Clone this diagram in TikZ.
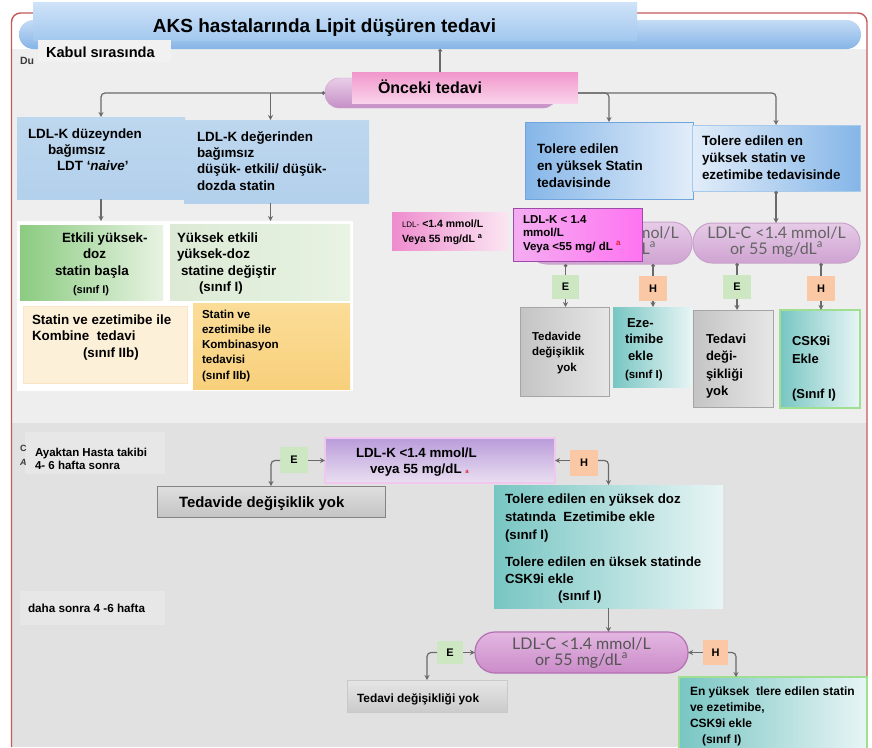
\documentclass[tikz,border=0pt]{standalone}
\usepackage{fontspec}
\setmainfont{Liberation Sans}
\newfontfamily\pillfont{Lato}
\usetikzlibrary{arrows.meta,calc}

\definecolor{bgup}{HTML}{EEEEEE}
\definecolor{bglow}{HTML}{E1E1E1}
\definecolor{framered}{HTML}{C65A5A}
\definecolor{linegray}{HTML}{6A6A6A}
\definecolor{hdrtop}{HTML}{C4DCF6}
\definecolor{hdrbot}{HTML}{86B4E6}
\definecolor{ttltop}{HTML}{CFE3F8}
\definecolor{ttlbot}{HTML}{A3C8EF}
\definecolor{kabulgray}{HTML}{F1F1F1}
\definecolor{ldlblue}{HTML}{BDD7EE}
\definecolor{ldlblue2}{HTML}{B3D0EC}
\definecolor{tolblue}{HTML}{85B6E8}
\definecolor{tollight}{HTML}{E2EDF9}
\definecolor{tolborder}{HTML}{6FA5DC}
\definecolor{gdark}{HTML}{8BCB80}
\definecolor{glight}{HTML}{E8F3E3}
\definecolor{gpale}{HTML}{DCEAD5}
\definecolor{cream}{HTML}{FDF0D8}
\definecolor{creamedge}{HTML}{F3C98A}
\definecolor{ytop}{HTML}{FBDD98}
\definecolor{ybot}{HTML}{F8D07C}
\definecolor{pinkL}{HTML}{EE8CCE}
\definecolor{pinkR}{HTML}{FBE6F2}
\definecolor{magL}{HTML}{F4ADF1}
\definecolor{magR}{HTML}{FF74F1}
\definecolor{magborder}{HTML}{9B4CA9}
\definecolor{lilactop}{HTML}{E6CBE7}
\definecolor{lilacbot}{HTML}{CFA3D2}
\definecolor{lilacborder}{HTML}{C9A2CB}
\definecolor{pill3top}{HTML}{E3B6E1}
\definecolor{pill3bot}{HTML}{CB8CC9}
\definecolor{pill3border}{HTML}{B470B3}
\definecolor{pilltext}{HTML}{646464}
\definecolor{onctop}{HTML}{F196CB}
\definecolor{oncbot}{HTML}{FAD3EA}
\definecolor{optop}{HTML}{E9CDE8}
\definecolor{opbot}{HTML}{C590C6}
\definecolor{egreen}{HTML}{CDE7C3}
\definecolor{hpeach}{HTML}{FAC8A4}
\definecolor{grayL}{HTML}{C4C4C4}
\definecolor{grayR}{HTML}{E6E6E6}
\definecolor{grayborder}{HTML}{A5A5A5}
\definecolor{tealL}{HTML}{78C6C3}
\definecolor{tealR}{HTML}{E8F5F5}
\definecolor{greenborder}{HTML}{A0DE92}
\definecolor{purpTop}{HTML}{B99CDA}
\definecolor{purpBot}{HTML}{EADFF1}
\definecolor{purpborder}{HTML}{F1C7F0}
\definecolor{supred}{HTML}{E0203A}
\definecolor{faint}{HTML}{E7E7E7}
\definecolor{remnant}{HTML}{3A3A3A}

\begin{document}
\begin{tikzpicture}[x=1pt,y=-1pt,
  box/.style={anchor=north west, inner sep=0pt, outer sep=0pt, draw=none},
  % multi-line texts are placed by the baseline of their last line
  tx/.style={anchor=base west, inner sep=0pt, outer sep=0pt, align=left, text=black},
  ftitle/.style={font=\fontsize{19}{22}\selectfont\bfseries},
  fmain/.style={font=\fontsize{13.4}{16.4}\selectfont\bfseries},
  fpill/.style={font=\fontsize{16}{16}\selectfont\pillfont, text=pilltext, anchor=base, align=center, inner sep=0pt},
  tag/.style={box, font=\fontsize{11}{11}\selectfont\bfseries},
  ebox/.style={tag, fill=egreen},
  hbox/.style={tag, fill=hpeach},
  graybox/.style={box, left color=grayL, right color=grayR, draw=grayborder, line width=0.8pt},
  tealbox/.style={box, left color=tealL, right color=tealR},
  conn/.style={draw=linegray, line width=1.2pt, rounded corners=4pt},
  arr/.style={conn, -{Stealth[length=5pt,width=5pt]}},
  darr/.style={conn, {Circle[length=3.5pt]}-{Stealth[length=5pt,width=5pt]}},
  dline/.style={conn, {Circle[length=3.5pt]}-},
]
\useasboundingbox (0,0) rectangle (872,747);

% ---------- page background and frame ----------
\fill[white] (0,0) rectangle (872,747);
\fill[bgup] (12,49) rectangle (867,423);
\fill[bglow] (12,423) rectangle (867,747);
\draw[framered, line width=1.4pt, rounded corners=9pt] (11.5,747) -- (11.5,13) -- (867,13) -- (867,747);

% ---------- header ----------
\node[box, minimum width=842, minimum height=29, rounded corners=14.5pt,
      top color=hdrtop, bottom color=hdrbot] (hdr) at (19,20) {};
\node[box, minimum width=604, minimum height=38, top color=ttltop, bottom color=ttlbot] (ttl) at (33,2) {};
\node[ftitle, anchor=base, inner sep=0pt] (ttlt) at (324.5,32) {AKS hastalarında Lipit düşüren tedavi};
\node[tx, font=\fontsize{10.5}{10.5}\selectfont\bfseries, text=remnant] (du) at (20,64) {Du};
\node[box, minimum width=133, minimum height=22, fill=kabulgray] (kab) at (38,40) {};
\node[tx, font=\fontsize{14.6}{14.6}\selectfont\bfseries] (kabt) at (46,57) {Kabul sırasında};

% ---------- previous therapy ----------
\node[box, minimum width=232, minimum height=30, rounded corners=14pt,
      top color=optop, bottom color=opbot, draw=lilacborder] (op) at (325,78) {};
\node[box, minimum width=226, minimum height=31, top color=onctop, bottom color=oncbot] (onc) at (352,72) {};
\node[tx, font=\fontsize{16}{16}\selectfont\bfseries] (onct) at (378,93) {Önceki tedavi};

% ---------- first row: therapy status ----------
\node[box, minimum width=168, minimum height=82, top color=ldlblue, bottom color=ldlblue2] (b1) at (17,117) {};
\node[box, minimum width=185, minimum height=83, top color=ldlblue, bottom color=ldlblue2] (b2) at (184,120) {};
\node[box, minimum width=168, minimum height=77, left color=tolblue, right color=tollight, draw=tolborder, line width=1pt] (b3) at (525,122) {};
\node[box, minimum width=168, minimum height=66, left color=tollight, right color=tolblue, draw=tolborder!60, line width=1pt] (b4) at (692,125) {};

\node[tx, fmain] (b1t) at (28,170.8) {LDL-K düzeynden\\\hspace*{20pt}bağımsız\\\hspace*{29pt}LDT ‘\textit{naive}’};
\node[tx, fmain] (b2t) at (197,190.2) {LDL-K değerinden\\bağımsız\\düşük- etkili/ düşük-\\dozda statin};
\node[tx, font=\fontsize{13.4}{17.3}\selectfont\bfseries] (b3t) at (537,187.6) {Tolere edilen\\en yüksek Statin\\tedavisinde};
\node[tx, font=\fontsize{13.4}{17}\selectfont\bfseries] (b4t) at (702,179) {Tolere edilen en\\yüksek statin ve\\ezetimibe tedavisinde};

% ---------- left recommendations ----------
\node[box, minimum width=336, minimum height=170, fill=white] (wf) at (17,221) {};
\node[box, minimum width=143, minimum height=75, left color=gdark, right color=glight] (g1) at (20,225) {};
\node[box, minimum width=180, minimum height=76, left color=gpale, right color=glight] (g2) at (170,224) {};
\node[box, minimum width=164, minimum height=77, fill=cream, draw=creamedge!50, line width=0.6pt] (y1) at (23,306) {};
\node[box, minimum width=157, minimum height=86, top color=ytop, bottom color=ybot] (y2) at (193,303) {};

\node[tx, font=\fontsize{13.4}{16.6}\selectfont\bfseries] (g1t) at (62,275.2) {Etkili yüksek-\\\hspace*{21pt}doz\\\hspace*{-7pt}statin başla};
\node[tx, font=\fontsize{11}{11}\selectfont\bfseries] (g1c) at (73,293) {(sınıf I)};
\node[tx, font=\fontsize{13.4}{16.6}\selectfont\bfseries] (g2t) at (177,291.8) {Yüksek etkili\\yüksek-doz\\\hspace*{4pt}statine değiştir\\\hspace*{22pt}(sınıf I)};
\node[tx, font=\fontsize{13.4}{16.5}\selectfont\bfseries] (y1t) at (32,357) {Statin ve ezetimibe ile\\Kombine\ \ tedavi\\\hspace*{51pt}(sınıf IIb)};
\node[tx, font=\fontsize{11.6}{15.3}\selectfont\bfseries] (y2t) at (202,379.2) {Statin ve\\ezetimibe ile\\Kombinasyon\\tedavisi\\(sınıf IIb)};

% ---------- right: LDL targets ----------
\node[box, minimum width=116, minimum height=38, left color=pinkL, right color=pinkR] (ps) at (392,212) {};
\node[tx, font=\fontsize{10.5}{15}\selectfont\bfseries] (pst) at (402,242)
  {{\mdseries\fontsize{8}{8}\selectfont LDL-} <1.4 mmol/L\\Veya 55 mg/dL \textsuperscript{a}};

\node[box, minimum width=165, minimum height=42, rounded corners=20pt,
      top color=lilactop, bottom color=lilacbot, draw=lilacborder, line width=1pt] (p1) at (527,222) {};
\node[fpill] (p1t) at (609.5,254) {LDL-C <1.4 mmol/L\\or 55 mg/dL\textsuperscript{a}};
\node[box, minimum width=167, minimum height=40, rounded corners=19pt,
      top color=lilactop, bottom color=lilacbot, draw=lilacborder, line width=1pt] (p2) at (693,223) {};
\node[fpill] (p2t) at (776.5,254) {LDL-C <1.4 mmol/L\\or 55 mg/dL\textsuperscript{a}};

\node[box, minimum width=129, minimum height=53, left color=magL, right color=magR, draw=magborder, line width=0.9pt] (mg) at (513,208) {};
\node[tx, font=\fontsize{11.5}{13.6}\selectfont\bfseries] (mgt) at (523,250.2)
  {LDL-K < 1.4\\mmol/L\\Veya <55 mg/ dL {\color{supred}\textsuperscript{a}}};

% E / H decisions
\node[ebox, minimum width=27, minimum height=24] (e1) at (552,275) {E};
\node[hbox, minimum width=28, minimum height=25] (h1) at (639,276) {H};
\node[ebox, minimum width=28, minimum height=24] (e2) at (723,275) {E};
\node[hbox, minimum width=28, minimum height=25] (h2) at (807,276) {H};

% outcome boxes
\node[graybox, minimum width=89, minimum height=89] (gy1) at (520,307) {};
\node[tealbox, minimum width=79, minimum height=80] (tl1) at (613,307) {};
\node[graybox, minimum width=80, minimum height=97] (gy2) at (693,310) {};
\node[tealbox, minimum width=80, minimum height=98, draw=greenborder, line width=2pt] (tl2) at (780,310) {};

\node[tx, font=\fontsize{11.5}{15.5}\selectfont\bfseries] (gy1t) at (532,371) {Tedavide\\değişiklik\\\hspace*{25pt}yok};
\node[tx, font=\fontsize{13}{16.6}\selectfont\bfseries] (tl1t) at (627,360.2) {Eze-\\\hspace*{-2pt}timibe\\\hspace*{1pt}ekle};
\node[tx, font=\fontsize{11.5}{11.5}\selectfont\bfseries] (tl1c) at (625,378) {(sınıf I)};
\node[tx, font=\fontsize{13}{17.6}\selectfont\bfseries] (gy2t) at (706,395.8) {Tedavi\\deği-\\şikliği\\yok};
\node[tx, font=\fontsize{13}{18}\selectfont\bfseries] (tl2t) at (792,363) {CSK9i\\Ekle};
\node[tx, font=\fontsize{13}{13}\selectfont\bfseries] (tl2c) at (792,398) {(Sınıf I)};

% ---------- follow-up section ----------
\node[box, minimum width=140, minimum height=42, fill=faint] (fl1) at (25,432) {};
\node[tx, font=\fontsize{9}{14}\selectfont\bfseries, text=remnant] (ca) at (20,465) {C\\\textit{A}};
\node[tx, font=\fontsize{11.5}{13.5}\selectfont\bfseries] (fl1t) at (35,469.5) {Ayaktan Hasta takibi\\4- 6 hafta sonra};
\node[box, minimum width=145, minimum height=34, fill=faint] (fl2) at (20,591) {};
\node[tx, font=\fontsize{11.7}{11.7}\selectfont\bfseries] (fl2t) at (28,612) {daha sonra 4 -6 hafta};

\node[box, minimum width=230, minimum height=45, top color=purpTop, bottom color=purpBot, draw=purpborder, line width=1.6pt] (pl) at (325,438) {};
\node[tx, font=\fontsize{13.3}{16}\selectfont\bfseries] (plt) at (356,473)
  {LDL-K <1.4 mmol/L\\\hspace*{14pt}veya 55 mg/dL {\color{supred}\fontsize{6}{6}\selectfont a}};
\node[ebox, minimum width=28, minimum height=26] (e4) at (280,447) {E};
\node[hbox, minimum width=28, minimum height=26] (h4) at (570,450) {H};

\node[box, minimum width=228, minimum height=31, top color=grayR!80!grayL, bottom color=grayL, draw=grayborder!80!black, line width=1pt] (gl) at (157,486) {};
\node[tx, font=\fontsize{14.9}{14.9}\selectfont\bfseries] (glt) at (179,507) {Tedavide değişiklik yok};

\node[tealbox, minimum width=229, minimum height=62] (tu) at (494,485) {};
\node[tealbox, minimum width=229, minimum height=61] (tb) at (494,547) {};
\node[tx, font=\fontsize{13.3}{18}\selectfont\bfseries] (tut) at (505,539)
  {Tolere edilen en yüksek doz\\statında\ \ Ezetimibe ekle\\(sınıf I)};
\node[tx, font=\fontsize{13.3}{17}\selectfont\bfseries] (tbt) at (505,600)
  {Tolere edilen en\ üksek statinde\\CSK9i ekle\\\hspace*{53pt}(sınıf I)};

\node[box, minimum width=213, minimum height=41, rounded corners=20pt,
      top color=pill3top, bottom color=pill3bot, draw=pill3border, line width=1.2pt] (p3) at (475,632) {};
\node[fpill, text=pilltext!85!black] (p3t) at (581.5,665) {LDL-C <1.4 mmol/L\\or 55 mg/dL\textsuperscript{a}};
\node[ebox, minimum width=26, minimum height=23] (e3) at (437,641) {E};
\node[hbox, minimum width=25, minimum height=25] (h3) at (703,640) {H};

\node[box, minimum width=160, minimum height=32, top color=grayR, bottom color=grayL!80!grayR, draw=grayborder!60, line width=0.8pt] (g3) at (347,680) {};
\node[tx, font=\fontsize{11.9}{11.9}\selectfont\bfseries] (g3t) at (357,702) {Tedavi değişikliği yok};

\node[tealbox, minimum width=188, minimum height=72, draw=greenborder, line width=2pt] (t3) at (679,677) {};
\node[tx, font=\fontsize{12}{16}\selectfont\bfseries] (t3t) at (690,743)
  {En yüksek\ \ tlere edilen statin\\ve ezetimibe,\\CSK9i ekle\\\hspace*{12pt}(sınıf I)};

% ---------- connectors ----------
\coordinate (upstart) at ($(onc.north)+(-25,0)$);
\draw[conn, -{Circle[length=3.5pt]}] (upstart) -- (upstart |- hdr.south);

\coordinate (b2in) at ($(b2.north)+(-6,0)$);
\draw[darr] (op.west) -| (b1.north);
\draw[arr] (b2in |- op.west) -- (b2in);
\draw[arr] (onc.east |- op.west) -| (b3.north);
\draw[arr] (onc.east |- op.west) -| (b4.north);

\draw[arr] (b1.south) -- (b1.south |- wf.north);
\coordinate (b2out) at ($(b2.south)+(-6,0)$);
\draw[arr] (b2out) -- (b2out |- wf.north);
\draw[darr] (b4.south) -- (b4.south |- p2.north);

\draw[dline] (e1.north |- p1.south) -- (e1.north);
\draw[dline] (h1.north |- p1.south) -- (h1.north);
\draw[dline] (e2.north |- p2.south) -- (e2.north);
\draw[dline] (h2.north |- p2.south) -- (h2.north);
\draw[arr] (e1.south) -- (e1.south |- gy1.north);
\draw[arr] (h1.south) -- (h1.south |- tl1.north);
\draw[arr] (e2.south) -- (e2.south |- gy2.north);
\draw[arr] (h2.south) -- (h2.south |- tl2.north);

\draw[arr] (e4.east |- pl.west) -- (pl.west);
\draw[arr] (e4.west |- pl.west) -| (gl.north);
\draw[arr] (h4.west |- pl.east) -- (pl.east);
\draw[arr] (h4.east |- pl.east) -| (tu.north);
\draw[arr] (tb.south) -- (tb.south |- p3.north);
\draw[arr] (e3.east) -- (e3.east -| p3.west);
\draw[arr] (e3.west) -| (g3.north);
\draw[arr] (h3.west) -- (h3.west -| p3.east);
\coordinate (t3in) at ($(t3.north west)+(57,0)$);
\draw[arr] (h3.east) -| (t3in);

\end{tikzpicture}
\end{document}
